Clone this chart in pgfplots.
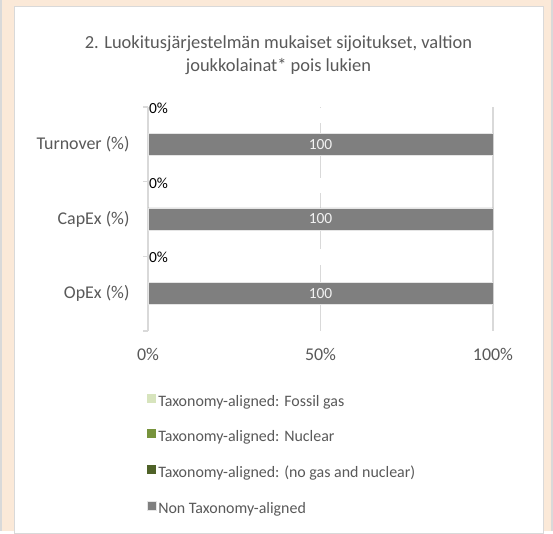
\documentclass[border=0pt]{standalone}
\usepackage{pgfplots}
\pgfplotsset{compat=1.18}
\usepackage{fontspec}
\setmainfont{Carlito}

\definecolor{framebg}{HTML}{FBE9D8}
\definecolor{frameline}{HTML}{D9D9D9}
\definecolor{txt}{HTML}{595959}
\definecolor{gasc}{HTML}{D7E4BD}
\definecolor{nucc}{HTML}{77933C}
\definecolor{otherc}{HTML}{4F6228}
\definecolor{nonc}{HTML}{7F7F7F}
\definecolor{gridc}{HTML}{D9D9D9}

\begin{document}
\begin{tikzpicture}
% outer frame of the page
\fill[framebg] (0,0) rectangle (553bp,531bp);
\fill[frameline] (0,0) rectangle (2bp,531bp);
\fill[frameline] (551bp,0) rectangle (553bp,531bp);
\filldraw[fill=white, draw=frameline, line width=1bp] (14.5bp,-2bp) rectangle (543.5bp,524.5bp);
% title, two lines
\node[text=txt, font=\fontsize{18.5}{22}\selectfont, anchor=base] at (278.5bp,482bp)
  {2. Luokitusjärjestelmän mukaiset sijoitukset, valtion};
\node[text=txt, font=\fontsize{18.5}{22}\selectfont, anchor=base] at (278.5bp,459bp)
  {joukkolainat* pois lukien};

% all series start at 0 (the first three are 0), so plain bars with no shift
% give the same picture as a stacked chart
\begin{axis}[
    at={(148bp,200bp)}, anchor=south west,
    scale only axis, width=345bp, height=224bp,
    xbar, bar shift=0pt, bar width=22bp,
    xmin=0, xmax=100, ymin=-0.5, ymax=2.5,
    ytick={0,1,2},
    yticklabels={OpEx (\%),CapEx (\%),Turnover (\%)},
    xtick={0,100}, xticklabels={0\%,100\%},
    extra x ticks={50}, extra x tick labels={50\%},
    extra x tick style={grid=major, major grid style={gridc, line width=1.3bp,
        dash pattern=on 66bp off 16bp on 56bp off 15bp on 55bp off 15bp on 2bp}},
    xmajorgrids, major grid style={gridc, line width=1.3bp},
    major tick length=0pt,
    minor ytick={-0.5,0.5,1.5,2.5},
    minor y tick style={draw=gridc, line width=1.3bp},
    minor tick length=5bp, tick align=outside,
    axis y line*=left, axis x line*=bottom,
    x axis line style={draw=none},
    y axis line style={draw=gridc, line width=1.3bp},
    tick label style={font=\fontsize{18}{20}\selectfont, text=txt},
    /pgf/number format/assume math mode=true,
    xticklabel style={yshift=-14bp},
    yticklabel style={xshift=-15bp},
    legend cell align=left,
    legend image code/.code={\fill[#1] (0bp,-0.5bp) rectangle (9bp,8.5bp);},
    legend style={at={(axis description cs:-0.003,-0.279)}, anchor=north west,
        draw=none, fill=none, inner sep=0pt,
        font=\fontsize{16}{18}\selectfont, text=txt, row sep=18.8bp,
        nodes={inner sep=1.5bp, text height=11bp, text depth=3bp}},
]
\addplot[fill=gasc, draw=none,
    nodes near coords={0\%},
    nodes near coords style={anchor=west, xshift=-2.5bp, yshift=36bp,
        text=black, font=\fontsize{15.5}{17}\selectfont}]
    coordinates {(0,0) (0,1) (0,2)};
\addplot[fill=nucc, draw=none] coordinates {(0,0) (0,1) (0,2)};
\addplot[fill=otherc, draw=none] coordinates {(0,0) (0,1) (0,2)};
\addplot[fill=nonc, draw=white!80!nonc, line width=0.6bp,
    nodes near coords,
    nodes near coords style={anchor=center, xshift=-172.5bp, text=white!95!black,
        font=\fontsize{15.5}{16}\selectfont}]
    coordinates {(100,0) (100,1) (100,2)};
\legend{Taxonomy-aligned: Fossil gas,Taxonomy-aligned: Nuclear,Taxonomy-aligned: (no gas and nuclear),Non Taxonomy-aligned}
\end{axis}
\end{tikzpicture}
\end{document}
